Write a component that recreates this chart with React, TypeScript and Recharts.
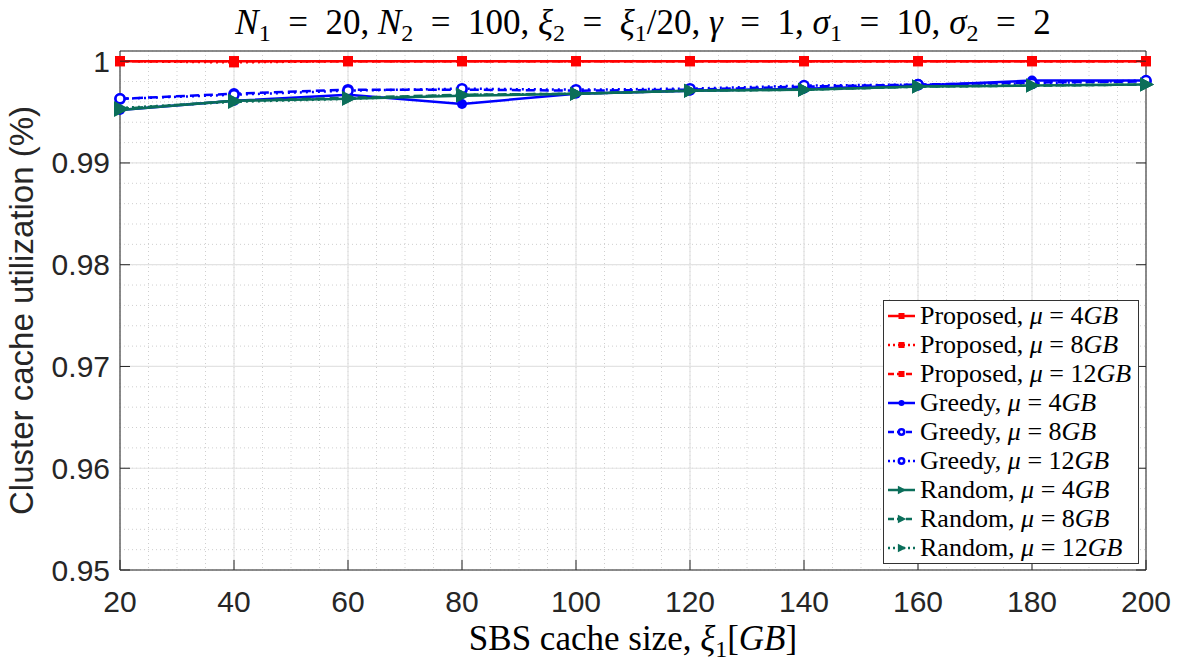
import { LineChart, Line, XAxis, YAxis, CartesianGrid, Legend } from 'recharts';

const sizes = [20, 40, 60, 80, 100, 120, 140, 160, 180, 200];
const proposed4 = [1, 1, 1, 1, 1, 1, 1, 1, 1, 1];
const proposed8 = [1, 0.99988, 1, 1, 1, 1, 1, 1, 1, 1];
const proposed12 = [1, 1, 1, 1, 1, 1, 1, 1, 1, 1];
const greedy4 = [0.9952, 0.9961, 0.9967, 0.9958, 0.9968, 0.9971, 0.9973, 0.9976, 0.9981, 0.9981];
const greedy8 = [0.9963, 0.9968, 0.9972, 0.9972, 0.9971, 0.9972, 0.9975, 0.9977, 0.9979, 0.998];
const greedy12 = [0.9963, 0.9967, 0.9971, 0.9973, 0.9972, 0.9973, 0.9976, 0.9977, 0.9978, 0.9981];
const random4 = [0.9952, 0.9961, 0.9963, 0.9966, 0.9968, 0.9971, 0.9972, 0.9975, 0.9976, 0.9977];
const random8 = [0.9953, 0.9961, 0.9964, 0.9967, 0.9968, 0.9971, 0.9972, 0.9975, 0.9976, 0.9977];
const random12 = [0.9954, 0.996, 0.9963, 0.9967, 0.9968, 0.9971, 0.9972, 0.9975, 0.9976, 0.9977];

const xTicks = [20, 40, 60, 80, 100, 120, 140, 160, 180, 200];
const xMinorTicks = [20, 25, 30, 35, 40, 45, 50, 55, 60, 65, 70, 75, 80, 85, 90, 95, 100, 105, 110, 115, 120, 125, 130, 135, 140, 145, 150, 155, 160, 165, 170, 175, 180, 185, 190, 195, 200];
const yTicks = [0.95, 0.96, 0.97, 0.98, 0.99, 1];
const yMinorTicks = [0.95, 0.952, 0.954, 0.956, 0.958, 0.96, 0.962, 0.964, 0.966, 0.968, 0.97, 0.972, 0.974, 0.976, 0.978, 0.98, 0.982, 0.984, 0.986, 0.988, 0.99, 0.992, 0.994, 0.996, 0.998, 1];

const RED = '#FF0000';
const BLUE = '#0000FF';
const GREEN = '#0B6E5A';
const AXIS = '#262626';
const SERIF = '"Liberation Serif", "DejaVu Serif", serif';
const SANS = '"Liberation Sans", Arial, sans-serif';
const TICK_LEN = 10;
const EQ = '\u2002=\u2002';

const data = sizes.map((s, i) => ({
  size: s,
  p4: proposed4[i],
  p8: proposed8[i],
  p12: proposed12[i],
  g4: greedy4[i],
  g8: greedy8[i],
  g12: greedy12[i],
  r4: random4[i],
  r8: random8[i],
  r12: random12[i],
}));

type Marker = 'square' | 'circle' | 'ring' | 'tri';

const series: Array<{ key: string; name: string; mu: string; color: string; dash?: string; marker: Marker }> = [
  { key: 'p4', name: 'Proposed', mu: '4', color: RED, marker: 'square' },
  { key: 'p8', name: 'Proposed', mu: '8', color: RED, dash: '2 4', marker: 'square' },
  { key: 'p12', name: 'Proposed', mu: '12', color: RED, dash: '9 5', marker: 'square' },
  { key: 'g4', name: 'Greedy', mu: '4', color: BLUE, marker: 'circle' },
  { key: 'g8', name: 'Greedy', mu: '8', color: BLUE, dash: '9 5', marker: 'ring' },
  { key: 'g12', name: 'Greedy', mu: '12', color: BLUE, dash: '2 4', marker: 'ring' },
  { key: 'r4', name: 'Random', mu: '4', color: GREEN, marker: 'tri' },
  { key: 'r8', name: 'Random', mu: '8', color: GREEN, dash: '9 5', marker: 'tri' },
  { key: 'r12', name: 'Random', mu: '12', color: GREEN, dash: '2 4', marker: 'tri' },
];

const drawMarker = (m: Marker, color: string, cx: number, cy: number, s = 1, key?: string) => {
  if (m === 'square') return <rect key={key} x={cx - 5 * s} y={cy - 5 * s} width={10 * s} height={10 * s} fill={color} />;
  if (m === 'circle') return <circle key={key} cx={cx} cy={cy} r={5 * s} fill={color} />;
  if (m === 'ring') return <circle key={key} cx={cx} cy={cy} r={4.5 * s} fill="#fff" stroke={color} strokeWidth={2.5} />;
  return (
    <polygon
      key={key}
      points={`${cx - 6 * s},${cy - 7 * s} ${cx + 8 * s},${cy} ${cx - 6 * s},${cy + 7 * s}`}
      fill={color}
    />
  );
};

const makeDot = (m: Marker, color: string) => (props: any) => {
  const { cx, cy, index } = props;
  if (cx == null || cy == null) return <g key={`d-${index}`} />;
  return drawMarker(m, color, cx, cy, 1, `d-${index}`);
};

// inward tick marks, MATLAB style
const BottomTick = (props: any) => {
  const { x, y, payload } = props;
  const axisY = y - 31;
  return (
    <g>
      <line x1={x} y1={axisY} x2={x} y2={axisY - TICK_LEN} stroke={AXIS} strokeWidth={1} />
      <text x={x} y={y + 11} textAnchor="middle" fontFamily={SANS} fontSize={30} fill={AXIS}>
        {payload.value}
      </text>
    </g>
  );
};

const LeftTick = (props: any) => {
  const { x, y, payload } = props;
  const axisX = x + 10;
  const v = payload.value as number;
  return (
    <g>
      <line x1={axisX} y1={y} x2={axisX + TICK_LEN} y2={y} stroke={AXIS} strokeWidth={1} />
      <text x={x} y={y + 10.5} textAnchor="end" fontFamily={SANS} fontSize={30} fill={AXIS}>
        {v === 1 ? '1' : v.toFixed(2)}
      </text>
    </g>
  );
};

const TopTick = (props: any) => {
  const { x, y } = props;
  return <line x1={x} y1={y} x2={x} y2={y + TICK_LEN} stroke={AXIS} strokeWidth={1} />;
};

const RightTick = (props: any) => {
  const { x, y } = props;
  return <line x1={x} y1={y} x2={x - TICK_LEN} y2={y} stroke={AXIS} strokeWidth={1} />;
};

const TitleLabel = (props: any) => {
  const { viewBox } = props;
  const cx = viewBox.x + viewBox.width / 2 + 10;
  return (
    <text x={cx} y={34} textAnchor="middle" fontFamily={SERIF} fontSize={35} fill="#000">
      <tspan fontStyle="italic">N</tspan>
      <tspan dy={7} fontSize={24}>1</tspan>
      <tspan dy={-7}>{`${EQ}20, `}</tspan>
      <tspan fontStyle="italic">N</tspan>
      <tspan dy={7} fontSize={24}>2</tspan>
      <tspan dy={-7}>{`${EQ}100, `}</tspan>
      <tspan fontStyle="italic">ξ</tspan>
      <tspan dy={7} fontSize={24}>2</tspan>
      <tspan dy={-7}>{EQ}</tspan>
      <tspan fontStyle="italic">ξ</tspan>
      <tspan dy={7} fontSize={24}>1</tspan>
      <tspan dy={-7}>/20, </tspan>
      <tspan fontStyle="italic">γ</tspan>
      <tspan>{`${EQ}1, `}</tspan>
      <tspan fontStyle="italic">σ</tspan>
      <tspan dy={7} fontSize={24}>1</tspan>
      <tspan dy={-7}>{`${EQ}10, `}</tspan>
      <tspan fontStyle="italic">σ</tspan>
      <tspan dy={7} fontSize={24}>2</tspan>
      <tspan dy={-7}>{`${EQ}2`}</tspan>
    </text>
  );
};

const XLabel = (props: any) => {
  const { viewBox } = props;
  const cx = viewBox.x + viewBox.width / 2;
  return (
    <text x={cx} y={650} textAnchor="middle" fontFamily={SERIF} fontSize={35} fill="#000">
      <tspan>SBS cache size, </tspan>
      <tspan fontStyle="italic">ξ</tspan>
      <tspan dy={7} fontSize={24}>1</tspan>
      <tspan dy={-7}>[</tspan>
      <tspan fontStyle="italic">GB</tspan>
      <tspan>]</tspan>
    </text>
  );
};

const YLabel = (props: any) => {
  const { viewBox } = props;
  const cy = viewBox.y + viewBox.height / 2;
  return (
    <text
      x={33}
      y={cy}
      transform={`rotate(-90 33 ${cy})`}
      textAnchor="middle"
      fontFamily={SANS}
      fontSize={33}
      fill={AXIS}
    >
      Cluster cache utilization (%)
    </text>
  );
};

const LegendBox = () => (
  <div
    style={{
      background: '#fff',
      border: '1px solid #333',
      padding: '1px 3px',
      fontFamily: SERIF,
      fontSize: 26,
      color: '#000',
      width: 256,
      boxSizing: 'border-box',
    }}
  >
    {series.map((s) => (
      <div key={s.key} style={{ display: 'flex', alignItems: 'center', height: 28.9, whiteSpace: 'nowrap' }}>
        <svg width={30} height={20} style={{ marginRight: 3, flexShrink: 0 }}>
          <line
            x1={1}
            y1={10}
            x2={28}
            y2={10}
            stroke={s.color}
            strokeWidth={2.5}
            strokeDasharray={s.dash ? (s.dash === '2 4' ? '2 3' : '6 3') : undefined}
          />
          {drawMarker(s.marker, s.color, 14.5, 10, 0.6)}
        </svg>
        <span>
          {s.name}, <i>μ</i> = {s.mu}
          <i>GB</i>
        </span>
      </div>
    ))}
  </div>
);

export default function App() {
  return (
    <div style={{ position: 'absolute', left: 0, top: 0, background: '#fff' }}>
      <LineChart width={1186} height={661} data={data} margin={{ top: 50, right: 39, left: 0, bottom: 0 }}>
        <XAxis xAxisId="minor" type="number" dataKey="size" domain={[20, 200]} ticks={xMinorTicks} interval={0} hide />
        <YAxis yAxisId="minor" type="number" domain={[0.95, 1.001]} ticks={yMinorTicks} interval={0} allowDataOverflow hide />
        <CartesianGrid xAxisId="minor" yAxisId="minor" stroke="#cfcfcf" strokeDasharray="1 3" strokeWidth={1} />
        <CartesianGrid stroke="#e3e3e3" strokeWidth={1.2} />
        {series.map((s) => (
          <Line
            key={s.key}
            dataKey={s.key}
            name={`${s.name}, μ = ${s.mu}GB`}
            type="linear"
            stroke={s.color}
            strokeWidth={2.5}
            strokeDasharray={s.dash}
            dot={makeDot(s.marker, s.color)}
            activeDot={false}
            isAnimationActive={false}
          />
        ))}
        <XAxis
          dataKey="size"
          type="number"
          domain={[20, 200]}
          ticks={xTicks}
          interval={0}
          height={91}
          tickLine={false}
          tickSize={0}
          tickMargin={31}
          stroke={AXIS}
          tick={BottomTick}
          label={{ content: XLabel }}
        />
        <XAxis
          xAxisId="top"
          orientation="top"
          type="number"
          domain={[20, 200]}
          ticks={xTicks}
          interval={0}
          height={1}
          tickLine={false}
          tickSize={0}
          tickMargin={0}
          tick={TopTick}
          stroke={AXIS}
          label={{ content: TitleLabel }}
        />
        <YAxis
          type="number"
          domain={[0.95, 1.001]}
          ticks={yTicks}
          interval={0}
          allowDataOverflow
          width={120}
          tickLine={false}
          tickSize={0}
          tickMargin={10}
          stroke={AXIS}
          tick={LeftTick}
          label={{ content: YLabel }}
        />
        <YAxis
          yAxisId="right"
          orientation="right"
          type="number"
          domain={[0.95, 1.001]}
          ticks={yTicks}
          interval={0}
          allowDataOverflow
          width={1}
          tickLine={false}
          tickSize={0}
          tickMargin={0}
          tick={RightTick}
          stroke={AXIS}
        />
        <Legend
          layout="vertical"
          align="center"
          verticalAlign="middle"
          content={LegendBox}
          wrapperStyle={{ position: 'absolute', left: 883, top: 300, width: 'auto', height: 'auto' }}
        />
      </LineChart>
    </div>
  );
}
